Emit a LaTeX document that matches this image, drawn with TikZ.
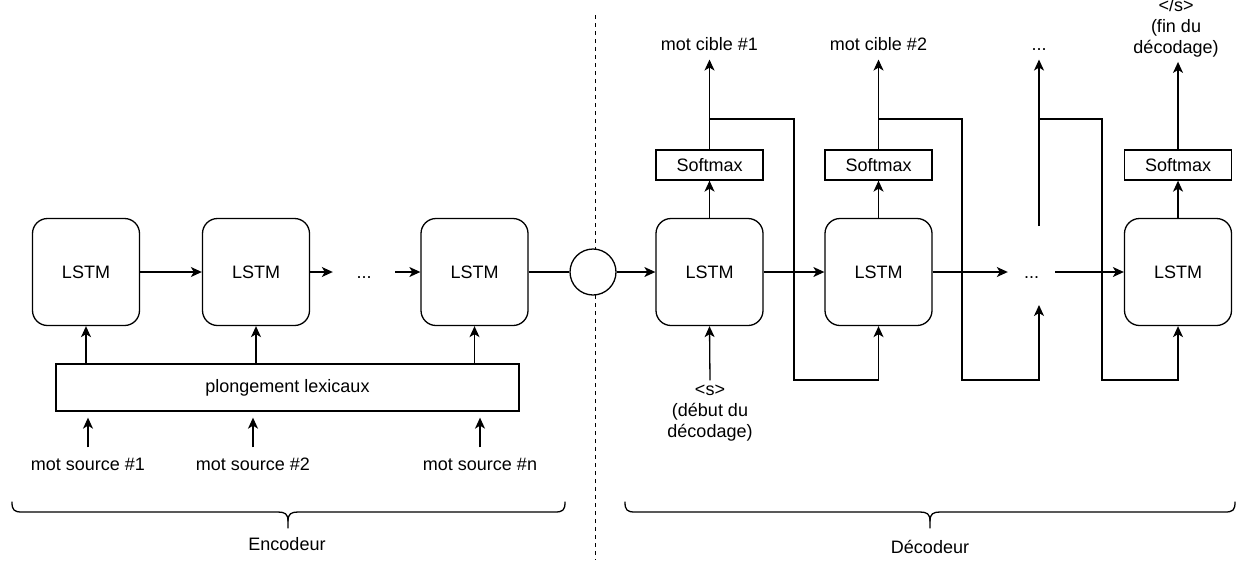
\documentclass[tikz,border=0pt]{standalone}
\usepackage{fontspec}
\setmainfont{Liberation Sans}
\usetikzlibrary{arrows.meta}
\begin{document}
\begin{tikzpicture}[x=1pt,y=-1pt,
  lbl/.style={font=\fontsize{18pt}{21pt}\selectfont},
  one/.style={text height=13pt, text depth=1pt},
  ln/.style={line width=1.3pt},
  lstm/.style={draw, ln, rounded corners=15pt, minimum width=107pt, minimum height=107pt, inner sep=0pt, lbl},
  soft/.style={draw, ln, minimum width=107pt, minimum height=30pt, inner sep=0pt, lbl},
  arr/.style={ln, -{Stealth[length=11pt,width=10pt,inset=3pt]}},
  brace/.style={ln, line cap=round}
]
\useasboundingbox (0,0) rectangle (1238,560);

% separator
\coordinate (dt) at (595,15);
\coordinate (db) at (595,560);
\draw[line width=1pt, dash pattern=on 4pt off 4pt] (dt) -- (db);

% ---------- encoder ----------
\node[lstm] (e1) at (86,272) {LSTM};
\node[lstm] (e2) at (256,272) {LSTM};
\node[lstm] (e3) at (474.5,272) {LSTM};
\node[lbl, one, minimum width=62pt, inner sep=0pt] (edots) at (364,272) {...};
\draw[arr] (e1.east) -- (e2.west);
\draw[arr] (e2.east) -- (edots.west);
\draw[arr] (edots.east) -- (e3.west);

\node[draw, ln, minimum width=463pt, minimum height=47pt, inner sep=0pt, lbl] (emb) at (287.5,387.5) {plongement lexicaux};
\draw[arr] (emb.north -| e1) -- (e1.south);
\draw[arr] (emb.north -| e2) -- (e2.south);
\draw[arr] (emb.north -| e3) -- (e3.south);

\node[lbl, one] (w1) at (88,464) {mot source \#1};
\node[lbl, one] (w2) at (253,464) {mot source \#2};
\node[lbl, one] (wn) at (480,464) {mot source \#n};
\draw[arr, shorten <=6pt, shorten >=6pt] (w1.north) -- (w1.north |- emb.south);
\draw[arr, shorten <=6pt, shorten >=6pt] (w2.north) -- (w2.north |- emb.south);
\draw[arr, shorten <=6pt, shorten >=6pt] (wn.north) -- (wn.north |- emb.south);

% context circle
\node[draw, ln, fill=white, circle, minimum size=46pt, inner sep=0pt] (c) at (593,272) {};
\draw[ln] (e3.east) -- (c.west);

% ---------- decoder ----------
\node[lstm] (d1) at (709.5,272) {LSTM};
\node[lstm] (d2) at (878.5,272) {LSTM};
\node[lstm] (d4) at (1178,272) {LSTM};
\node[lbl, one, minimum width=47pt, inner sep=0pt] (ddots) at (1031.5,272) {...};

\node[soft] (s1) at (709.5,165) {Softmax};
\node[soft] (s2) at (878.5,165) {Softmax};
\node[soft] (s4) at (1178,165) {Softmax};

\draw[arr] (c.east) -- (d1.west);
\draw[arr] (d1.east) -- (d2.west);
\draw[arr] (d2.east) -- (ddots.west);
\draw[arr] (ddots.east) -- (d4.west);

\draw[arr] (d1.north) -- (s1.south);
\draw[arr] (d2.north) -- (s2.south);
\draw[arr] (d4.north) -- (s4.south);

\node[lbl, one] (o1) at (709.5,44) {mot cible \#1};
\node[lbl, one] (o2) at (878.5,44) {mot cible \#2};
\node[lbl, one] (o3) at (1039,44) {...};
\node[lbl, align=center] (o4) at (1176,28) {</s>\\(fin du\\décodage)};

\draw[arr, shorten >=5pt] (s1.north) -- (o1.south);
\draw[arr, shorten >=5pt] (s2.north) -- (o2.south);
\coordinate (t3) at (1039,226);
\draw[arr, shorten >=5pt] (t3) -- (o3.south);
\draw[arr, shorten >=1pt] (s4.north) -- (s4.north |- o4.south);

% feedback connections
\coordinate (b1) at (709.5,119);
\coordinate (k1) at (794,380);
\draw[arr] (b1) -| (k1) -| (d2.south);
\coordinate (b2) at (878.5,119);
\coordinate (k2) at (962,380);
\coordinate (u3) at (1039,305);
\draw[arr] (b2) -| (k2) -| (u3);
\coordinate (b3) at (1039,119);
\coordinate (k3) at (1102,380);
\draw[arr] (b3) -| (k3) -| (d4.south);

% start symbol
\node[lbl, align=center] (st) at (710,413) {<s>\\(début du\\décodage)};
\draw[arr, shorten <=1pt] (st.north) -- (d1.south);

% ---------- braces ----------
\draw[brace] (12,502) .. controls (12,510) and (14,512) .. (22,512) -- (278,512)
  .. controls (285,512) and (288,514) .. (288,521) -- (288,528);
\draw[brace] (565,502) .. controls (565,510) and (563,512) .. (555,512) -- (298,512)
  .. controls (291,512) and (288,514) .. (288,521);
\node[lbl] (enc) at (287,544) {Encodeur};

\draw[brace] (625,502) .. controls (625,510) and (627,512) .. (635,512) -- (920,512)
  .. controls (927,512) and (930,514) .. (930,521) -- (930,528);
\draw[brace] (1235,502) .. controls (1235,510) and (1233,512) .. (1225,512) -- (940,512)
  .. controls (933,512) and (930,514) .. (930,521);
\node[lbl] (dec) at (930,547) {Décodeur};
\end{tikzpicture}
\end{document}
